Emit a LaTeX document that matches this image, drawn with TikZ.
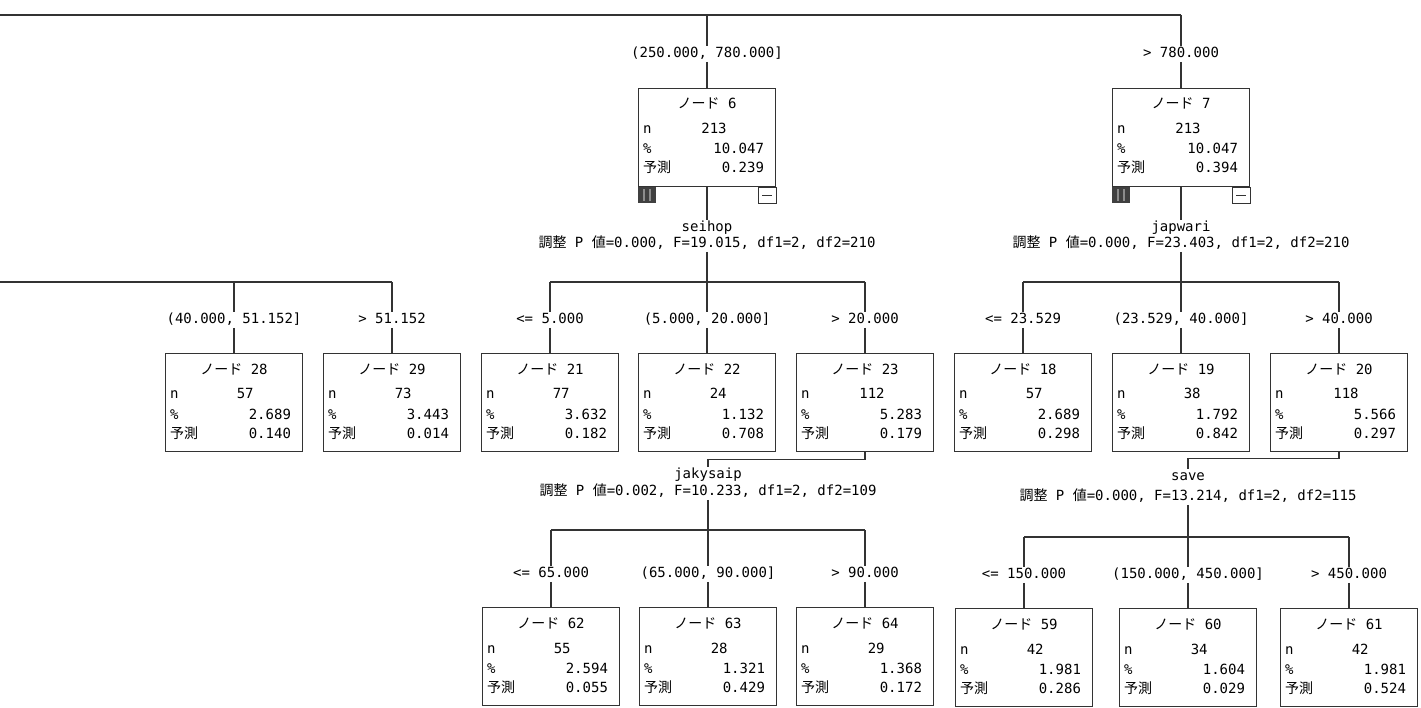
\documentclass[tikz,border=0pt]{standalone}
\usepackage{fontspec}
\setmainfont{DejaVu Sans Mono}
\newfontfamily\cjk{Noto Sans CJK JP}
\usetikzlibrary{calc}
\newcommand{\J}[1]{{\cjk #1}}
\newcommand{\tfs}{\fontsize{14}{16}\selectfont}
\newcommand{\tn}[7]{%
  \node[box] (#1) at (#2,#3) {};
  \node[txt] (#1h) at ($(#1.north)+(0,17)$) {\J{ノード} #4};
  \node[txt,anchor=west] (#1a) at ($(#1.north west)+(5,42)$) {n};
  \node[txt,anchor=east] (#1b) at ($(#1.north west)+(89,42)$) {#5};
  \node[txt,anchor=west] (#1c) at ($(#1.north west)+(5,62)$) {\%};
  \node[txt,anchor=east] (#1d) at ($(#1.north east)+(-12,62)$) {#6};
  \node[txt,anchor=west] (#1e) at ($(#1.north west)+(5,81)$) {\J{予測}};
  \node[txt,anchor=east] (#1f) at ($(#1.north east)+(-12,81)$) {#7};
}
\newcommand{\icons}[1]{%
  \fill[black!75] (#1.south west) rectangle ++(18,16);
  \fill[black!45] ($(#1.south west)+(5,2)$) rectangle ++(2,12);
  \fill[black!45] ($(#1.south west)+(11,2)$) rectangle ++(2,12);
  \draw[draw=black!80,line width=1.2pt,fill=white] ($(#1.south east)+(-18,0)$) rectangle ++(18,16);
  \draw[draw=black!80,line width=1.2pt] ($(#1.south east)+(-14,8)$) -- ++(10,0);
}
\begin{document}
\begin{tikzpicture}[x=1pt,y=-1pt,
  ln/.style={draw=black!80,line width=1.3pt},
  box/.style={draw=black!80,line width=1.3pt,minimum width=137pt,minimum height=98pt,inner sep=0pt,anchor=north},
  txt/.style={inner sep=0pt,font=\tfs,text height=10pt,text depth=2pt},
  lab/.style={inner sep=1.5pt,font=\tfs,text height=10pt,text depth=2.5pt},
]
\useasboundingbox (0,0) rectangle (1421,708);

% ---- top level
\coordinate (t0) at (0,15);
\coordinate (t6) at (707,15);
\coordinate (t7) at (1181,15);
\draw[ln] (t0) -- (t7);
\node[lab] (l6) at (707,54) {(250.000, 780.000]};
\node[lab] (l7) at (1181,54) {> 780.000};
\tn{n6}{707}{88}{6}{213}{10.047}{0.239}
\tn{n7}{1181}{88}{7}{213}{10.047}{0.394}
\draw[ln] (t6) -- (l6.north);
\draw[ln] (t7) -- (l7.north);
\draw[ln] (l6.south) -- (n6.north);
\draw[ln] (l7.south) -- (n7.north);
\icons{n6}
\icons{n7}

% ---- splits of node 6 and 7
\node[lab] (v6) at (707,228) {seihop};
\node[lab] (s6) at (707,244) {\J{調整} P \J{値}=0.000, F=19.015, df1=2, df2=210};
\node[lab] (v7) at (1181,228) {japwari};
\node[lab] (s7) at (1181,244) {\J{調整} P \J{値}=0.000, F=23.403, df1=2, df2=210};
\draw[ln] (n6.south) -- (v6.north);
\draw[ln] (n7.south) -- (v7.north);
\coordinate (h6) at (707,282);
\coordinate (h6a) at (550,282);
\coordinate (h6c) at (865,282);
\coordinate (h7) at (1181,282);
\coordinate (h7a) at (1023,282);
\coordinate (h7c) at (1339,282);
\draw[ln] (s6.south) -- (h6);
\draw[ln] (s7.south) -- (h7);
\draw[ln] (h6a) -- (h6c);
\draw[ln] (h7a) -- (h7c);

% left branch (parent off picture)
\coordinate (h0) at (0,282);
\coordinate (h0a) at (234,282);
\coordinate (h0b) at (392,282);
\draw[ln] (h0) -- (h0b);

% ---- level 2 labels and nodes
\node[lab] (l28) at (234,320) {(40.000, 51.152]};
\node[lab] (l29) at (392,320) {> 51.152};
\node[lab] (l21) at (550,320) {<= 5.000};
\node[lab] (l22) at (707,320) {(5.000, 20.000]};
\node[lab] (l23) at (865,320) {> 20.000};
\node[lab] (l18) at (1023,320) {<= 23.529};
\node[lab] (l19) at (1181,320) {(23.529, 40.000]};
\node[lab] (l20) at (1339,320) {> 40.000};

\tn{n28}{234}{353}{28}{57}{2.689}{0.140}
\tn{n29}{392}{353}{29}{73}{3.443}{0.014}
\tn{n21}{550}{353}{21}{77}{3.632}{0.182}
\tn{n22}{707}{353}{22}{24}{1.132}{0.708}
\tn{n23}{865}{353}{23}{112}{5.283}{0.179}
\tn{n18}{1023}{353}{18}{57}{2.689}{0.298}
\tn{n19}{1181}{353}{19}{38}{1.792}{0.842}
\tn{n20}{1339}{353}{20}{118}{5.566}{0.297}

\draw[ln] (h0a) -- (l28.north);
\draw[ln] (h0b) -- (l29.north);
\draw[ln] (h6a) -- (l21.north);
\draw[ln] (h6) -- (l22.north);
\draw[ln] (h6c) -- (l23.north);
\draw[ln] (h7a) -- (l18.north);
\draw[ln] (h7) -- (l19.north);
\draw[ln] (h7c) -- (l20.north);
\foreach \k in {28,29,21,22,23,18,19,20}{
  \draw[ln] (l\k.south) -- (n\k.north);
}

% ---- split of node 23
\node[lab] (v23) at (708,475) {jakysaip};
\node[lab] (s23) at (708,492) {\J{調整} P \J{値}=0.002, F=10.233, df1=2, df2=109};
\draw[ln] (n23.south) -- ++(0,7) -| (v23.north);
\coordinate (h23) at (708,530);
\coordinate (h23a) at (551,530);
\coordinate (h23c) at (865,530);
\draw[ln] (s23.south) -- (h23);
\draw[ln] (h23a) -- (h23c);

% ---- split of node 20
\node[lab] (v20) at (1188,477) {save};
\node[lab] (s20) at (1188,497) {\J{調整} P \J{値}=0.000, F=13.214, df1=2, df2=115};
\draw[ln] (n20.south) -- ++(0,6) -| (v20.north);
\coordinate (h20) at (1188,537);
\coordinate (h20a) at (1024,537);
\coordinate (h20c) at (1349,537);
\draw[ln] (s20.south) -- (h20);
\draw[ln] (h20a) -- (h20c);

% ---- level 3 labels and nodes
\node[lab] (l62) at (551,574) {<= 65.000};
\node[lab] (l63) at (708,574) {(65.000, 90.000]};
\node[lab] (l64) at (865,574) {> 90.000};
\node[lab] (l59) at (1024,575) {<= 150.000};
\node[lab] (l60) at (1188,575) {(150.000, 450.000]};
\node[lab] (l61) at (1349,575) {> 450.000};

\tn{n62}{551}{607}{62}{55}{2.594}{0.055}
\tn{n63}{708}{607}{63}{28}{1.321}{0.429}
\tn{n64}{865}{607}{64}{29}{1.368}{0.172}
\tn{n59}{1024}{608}{59}{42}{1.981}{0.286}
\tn{n60}{1188}{608}{60}{34}{1.604}{0.029}
\tn{n61}{1349}{608}{61}{42}{1.981}{0.524}

\draw[ln] (h23a) -- (l62.north);
\draw[ln] (h23) -- (l63.north);
\draw[ln] (h23c) -- (l64.north);
\draw[ln] (h20a) -- (l59.north);
\draw[ln] (h20) -- (l60.north);
\draw[ln] (h20c) -- (l61.north);
\foreach \k in {62,63,64,59,60,61}{
  \draw[ln] (l\k.south) -- (n\k.north);
}
\end{tikzpicture}
\end{document}
